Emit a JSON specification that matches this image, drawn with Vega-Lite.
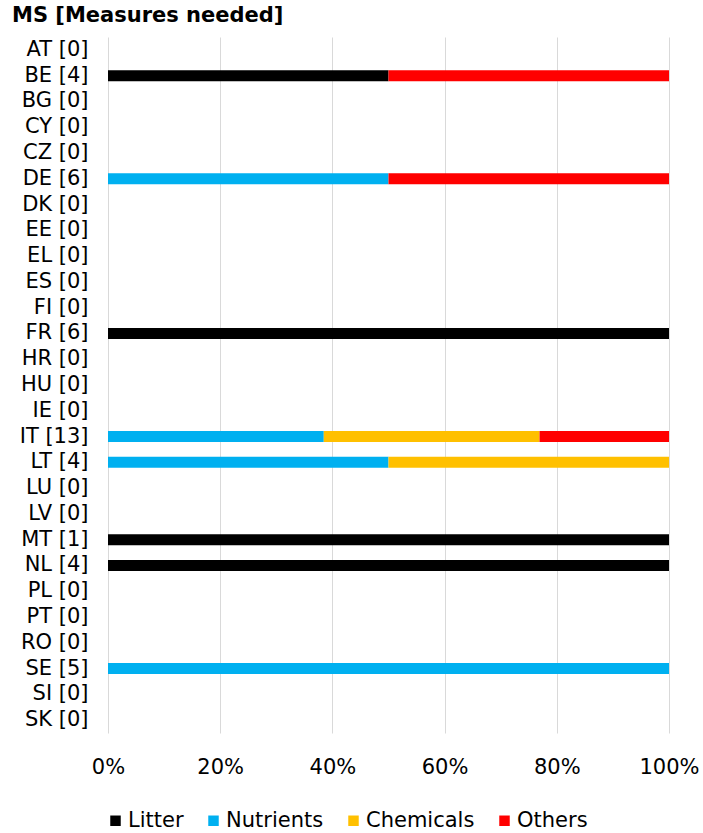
{
  "$schema": "https://vega.github.io/schema/vega-lite/v6.json",
  "autosize": "none",
  "width": 561,
  "height": 696,
  "padding": {"left": 108, "top": 37, "right": 34, "bottom": 100},
  "background": "white",
  "config": {
    "view": {"stroke": null},
    "font": "DejaVu Sans"
  },
  "title": {
    "text": "MS [Measures needed]",
    "anchor": "start",
    "frame": "group",
    "dx": -96,
    "offset": 11,
    "fontSize": 21,
    "fontWeight": "bold",
    "font": "DejaVu Sans",
    "color": "#000000"
  },
  "data": {
    "values": [
      {"ms": "BE [4]", "measure": "Litter", "k": 1, "n": 2},
      {"ms": "BE [4]", "measure": "Others", "k": 4, "n": 2},
      {"ms": "DE [6]", "measure": "Nutrients", "k": 2, "n": 3},
      {"ms": "DE [6]", "measure": "Others", "k": 4, "n": 3},
      {"ms": "FR [6]", "measure": "Litter", "k": 1, "n": 6},
      {"ms": "IT [13]", "measure": "Nutrients", "k": 2, "n": 5},
      {"ms": "IT [13]", "measure": "Chemicals", "k": 3, "n": 5},
      {"ms": "IT [13]", "measure": "Others", "k": 4, "n": 3},
      {"ms": "LT [4]", "measure": "Nutrients", "k": 2, "n": 2},
      {"ms": "LT [4]", "measure": "Chemicals", "k": 3, "n": 2},
      {"ms": "MT [1]", "measure": "Litter", "k": 1, "n": 1},
      {"ms": "NL [4]", "measure": "Litter", "k": 1, "n": 4},
      {"ms": "SE [5]", "measure": "Nutrients", "k": 2, "n": 5}
    ]
  },
  "mark": {"type": "bar", "size": 11},
  "encoding": {
    "y": {
      "field": "ms",
      "type": "nominal",
      "scale": {
        "domain": ["AT [0]", "BE [4]", "BG [0]", "CY [0]", "CZ [0]", "DE [6]", "DK [0]", "EE [0]", "EL [0]", "ES [0]", "FI [0]", "FR [6]", "HR [0]", "HU [0]", "IE [0]", "IT [13]", "LT [4]", "LU [0]", "LV [0]", "MT [1]", "NL [4]", "PL [0]", "PT [0]", "RO [0]", "SE [5]", "SI [0]", "SK [0]"]
      },
      "axis": {
        "title": null,
        "domain": false,
        "ticks": false,
        "grid": false,
        "labelFontSize": 21,
        "labelColor": "#000000",
        "labelPadding": 20,
        "labelFont": "DejaVu Sans"
      }
    },
    "x": {
      "field": "n",
      "type": "quantitative",
      "stack": "normalize",
      "scale": {"domain": [0, 1], "nice": false},
      "axis": {
        "title": null,
        "format": "%",
        "values": [0, 0.2, 0.4, 0.6, 0.8, 1],
        "domain": false,
        "ticks": false,
        "grid": true,
        "gridColor": "#d9d9d9",
        "gridWidth": 1,
        "labelFontSize": 21,
        "labelColor": "#000000",
        "labelPadding": 23,
        "labelFont": "DejaVu Sans",
        "labelFlush": false
      }
    },
    "color": {
      "field": "measure",
      "type": "nominal",
      "scale": {
        "domain": ["Litter", "Nutrients", "Chemicals", "Others"],
        "range": ["#000000", "#00B0F0", "#FFC000", "#FF0000"]
      },
      "legend": {
        "title": null,
        "orient": "none",
        "direction": "horizontal",
        "legendX": -3,
        "legendY": 773,
        "symbolType": "square",
        "symbolSize": 110,
        "symbolStrokeWidth": 0,
        "labelFontSize": 21,
        "labelColor": "#000000",
        "labelFont": "DejaVu Sans",
        "labelOffset": 2,
        "columnPadding": 19
      }
    },
    "order": {"field": "k", "type": "quantitative"}
  }
}
